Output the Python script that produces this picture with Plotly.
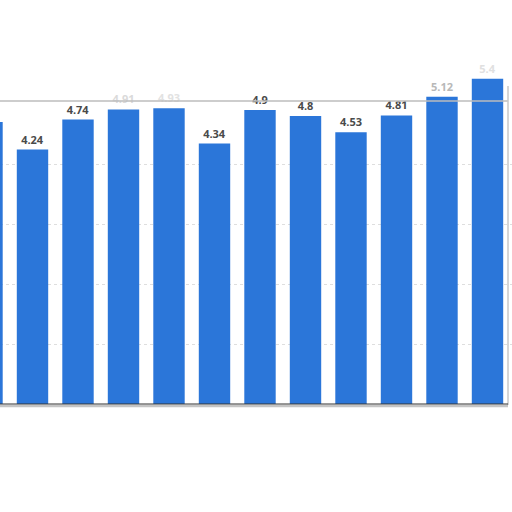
import plotly.graph_objects as go

# values (categories are not visible in the crop)
anos = ["2010", "2011", "2012", "2013", "2014", "2015",
        "2016", "2017", "2018", "2019", "2020", "2021"]
valores = [4.7, 4.24, 4.74, 4.91, 4.93, 4.34, 4.9, 4.8, 4.53, 4.81, 5.12, 5.42]
rotulos = ["4.7", "4.24", "4.74", "4.91", "4.93", "4.34", "4.9", "4.8", "4.53", "4.81", "5.12", "5.4"]

# labels that sit above the frame line look washed out
apagados = {3: "#dadada", 4: "#e2e2e2", 10: "#b8b8b8", 11: "#e0e0e0"}
cores_rotulo = [apagados.get(i, "#4a4a4a") for i in range(len(valores))]

fig = go.Figure()
fig.add_bar(
    x=list(range(len(anos))), y=valores,
    text=rotulos, textposition="outside", cliponaxis=False,
    textfont=dict(family="Open Sans", size=11, color=cores_rotulo, weight="bold"),
    marker=dict(color="#2b76d9", line=dict(width=0)),
    width=0.69,
)

# bar centre in pixels = -13 + 45.5 * i ; baseline at 404px, 60px per unit
fig.update_layout(
    width=512, height=512,
    margin=dict(l=0, r=0, t=0, b=0),
    paper_bgcolor="white", plot_bgcolor="white",
    showlegend=False,
    xaxis=dict(range=[13 / 45.5, 525 / 45.5], showticklabels=False, showgrid=False,
               zeroline=False),
    yaxis=dict(range=[-108 / 60, 404 / 60], tickvals=[1, 2, 3, 4], showticklabels=False,
               gridcolor="#dedede", griddash="dot", zeroline=False),
)


def py(p):
    return 1 - p / 512


def px_(p):
    return p / 512


# frame of the cropped chart: gray border with a soft shadow
fig.add_shape(type="line", xref="paper", yref="paper", x0=0, x1=px_(508), y0=py(101), y1=py(101),
              line=dict(color="#bdbdbd", width=1.5), layer="above")
fig.add_shape(type="line", xref="paper", yref="paper", x0=px_(508), x1=px_(508), y0=py(405), y1=py(86),
              line=dict(color="#c8c8c8", width=1.5), layer="above")
fig.add_shape(type="line", xref="paper", yref="paper", x0=0, x1=px_(508), y0=py(406), y1=py(406),
              line=dict(color="#c4c4c4", width=2.5), layer="above")
fig.add_shape(type="line", xref="paper", yref="y", x0=0, x1=px_(508), y0=0, y1=0,
              line=dict(color="#333333", width=1.2), layer="above")

fig.write_html("out.html", config={"displayModeBar": False},
               post_script="document.body.style.margin='0px';")
